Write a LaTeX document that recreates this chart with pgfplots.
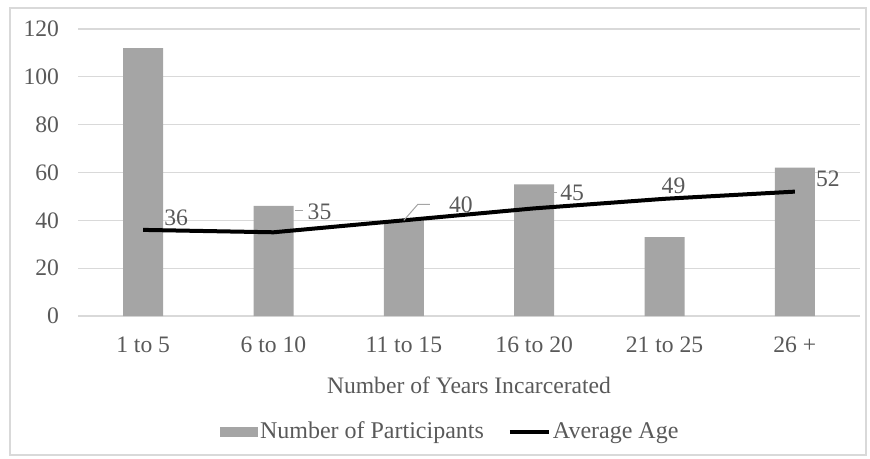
\documentclass[border=0pt]{standalone}
\usepackage{pgfplots}
\pgfplotsset{compat=1.18}
\usepackage{fontspec}
\setmainfont{Liberation Serif}
\definecolor{txt}{HTML}{595959}
\definecolor{barg}{HTML}{A5A5A5}
\definecolor{gridg}{HTML}{D9D9D9}
\begin{document}
\begin{tikzpicture}
\useasboundingbox (-39pt,-71.5pt) rectangle (396pt,158pt);
\draw[gridg, line width=0.6pt] (-34pt,-69.5pt) rectangle (394pt,154pt);
\begin{axis}[
  at={(0,0)}, anchor=south west,
  scale only axis, width=391pt, height=143.5pt,
  xmin=-0.5, xmax=5.5, ymin=0, ymax=120,
  ytick={0,20,...,120},
  xtick={0,1,2,3,4,5},
  xticklabels={1 to 5,6 to 10,11 to 15,16 to 20,21 to 25,26 +},
  axis line style={draw=none},
  major tick length=0pt,
  ymajorgrids, grid style={gridg, line width=0.6pt},
  font=\fontsize{11.8pt}{13pt}\selectfont,
  tick label style={txt},
  /pgf/number format/assume math mode=true,
  yticklabel style={anchor=east, xshift=-6pt},
  xticklabel style={anchor=center, yshift=-14.5pt},
  xlabel={Number of Years Incarcerated},
  xlabel style={txt, at={(axis description cs:0.5,0)}, anchor=center, yshift=-34.5pt},
  legend columns=2,
  legend style={draw=none, fill=none, text=txt, at={(axis description cs:0.476,0)}, anchor=center, yshift=-58pt,
    font=\fontsize{12pt}{13pt}\selectfont,
    /tikz/every even column/.append style={column sep=11pt},
    nodes={inner sep=1pt}},
  legend cell align=left,
]
\addplot[ybar, bar width=20pt, bar shift=0pt, fill=barg, draw=none,
  legend image code/.code={\fill[barg] (0pt,-2.5pt) rectangle (19pt,2.5pt);}]
  coordinates {(0,112) (1,46) (2,40) (3,55) (4,33) (5,62)};
\addlegendentry{Number of Participants}
\addplot[black, line width=2pt, mark=none,
  legend image code/.code={\draw[black, line width=2pt] (0pt,0pt) -- (19.5pt,0pt);}]
  coordinates {(0,36) (1,35) (2,40) (3,45) (4,49) (5,52)};
\addlegendentry{Average Age}
% value labels for the average age
\begin{scope}[every node/.style={text=txt, font=\fontsize{11.8pt}{13pt}\selectfont, inner sep=0pt}]
\node at (axis cs:0,36) [xshift=16.5pt, yshift=6pt] {36};
\node at (axis cs:1,35) [xshift=23pt, yshift=10.25pt] {35};
\node at (axis cs:2,40) [xshift=28.5pt, yshift=7.7pt] {40};
\node at (axis cs:3,45) [xshift=19pt, yshift=7.75pt] {45};
\node at (axis cs:4,49) [xshift=4.5pt, yshift=6.5pt] {49};
\node at (axis cs:5,52) [xshift=16.5pt, yshift=6.3pt] {52};
\end{scope}
% leader lines
\draw[barg, line width=0.5pt] (axis cs:1,35) ++(10.5pt,11pt) -- ++(4pt,0pt);
\draw[barg, line width=0.5pt] (axis cs:2,40) ++(0pt,0pt) -- ++(7pt,8pt) -- ++(6pt,0pt);
\draw[barg, line width=0.5pt] (axis cs:3,45) ++(10pt,8pt) -- ++(1.5pt,0pt);
\end{axis}
\end{tikzpicture}
\end{document}
